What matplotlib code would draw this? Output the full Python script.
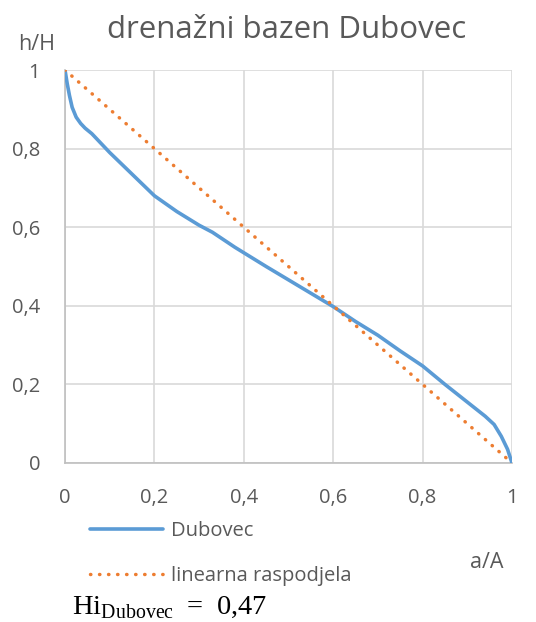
import matplotlib.pyplot as plt

# hipsometrijska krivulja, očitano sa slike
a_A = [0, 0.005, 0.01, 0.016, 0.025, 0.035, 0.045, 0.06, 0.1, 0.15, 0.2, 0.25, 0.3, 0.33,
       0.38, 0.4, 0.45, 0.5, 0.55, 0.6, 0.65, 0.7, 0.75, 0.8, 0.85, 0.9, 0.94, 0.96,
       0.976, 0.99, 1.0]
h_H = [1, 0.965, 0.935, 0.905, 0.88, 0.864, 0.852, 0.838, 0.79, 0.735, 0.68, 0.64, 0.605,
       0.587, 0.549, 0.535, 0.50, 0.466, 0.432, 0.398, 0.36, 0.325, 0.285, 0.247, 0.2,
       0.155, 0.119, 0.098, 0.068, 0.035, 0.0]
lin_x = [0, 1]
lin_y = [1, 0]
ticks = [0, 0.2, 0.4, 0.6, 0.8, 1]
tick_labels = ["0", "0,2", "0,4", "0,6", "0,8", "1"]

plt.rcParams['font.family'] = ['Open Sans', 'DejaVu Sans']
plt.rcParams['mathtext.fontset'] = 'custom'
plt.rcParams['mathtext.rm'] = 'Liberation Serif'
gray = '#595959'

fig = plt.figure(figsize=(5.36, 6.22), dpi=100)
ax = fig.add_axes([65/536, 159/622, 447/536, 393/622])

ln1, = ax.plot(a_A, h_H, color='#5B9BD5', lw=2.6, solid_capstyle='round', zorder=3)
ln2, = ax.plot(lin_x, lin_y, color='#ED7D31', lw=2.5, linestyle=(0, (0.1, 2.5)),
               dash_capstyle='round', zorder=4)

ax.set_xlim(0, 1)
ax.set_ylim(0, 1)
ax.set_xticks(ticks)
ax.set_xticklabels(tick_labels)
ax.set_yticks(ticks)
ax.set_yticklabels(tick_labels)
ax.tick_params(length=0, labelsize=14.5, colors=gray)
ax.tick_params(axis='x', pad=18)
ax.tick_params(axis='y', pad=18)
ax.grid(True, color='#D9D9D9', lw=1.2)
ax.set_axisbelow(True)
for s in ['top', 'right']:
    ax.spines[s].set_visible(False)
for s in ['left', 'bottom']:
    ax.spines[s].set_color('#BFBFBF')
    ax.spines[s].set_linewidth(1.2)

fig.text(287/536, 1 - 30/622, "drenažni bazen Dubovec", fontsize=22.5, color=gray,
         ha='center', va='center')
fig.text(37/536, 1 - 44/622, "h/H", fontsize=15.5, color=gray, ha='center', va='center')
fig.text(487/536, 1 - 562/622, "a/A", fontsize=15.5, color=gray, ha='center', va='center')

fig.legend([ln1, ln2], ["Dubovec", "linearna raspodjela"], loc='upper left',
           bbox_to_anchor=(90/536, 1 - 521/622), frameon=False, fontsize=14.5,
           labelcolor=gray, handlelength=3.6, handletextpad=0.4, labelspacing=1.25,
           borderaxespad=0, borderpad=0)

fig.text(72/536, 1 - 614/622, r"$\mathrm{Hi}_{\mathrm{Dubovec}}\;{=}\;0{,}47$",
         fontsize=20.5, color='black', ha='left', va='baseline')

fig.savefig("out.png", dpi=100)
